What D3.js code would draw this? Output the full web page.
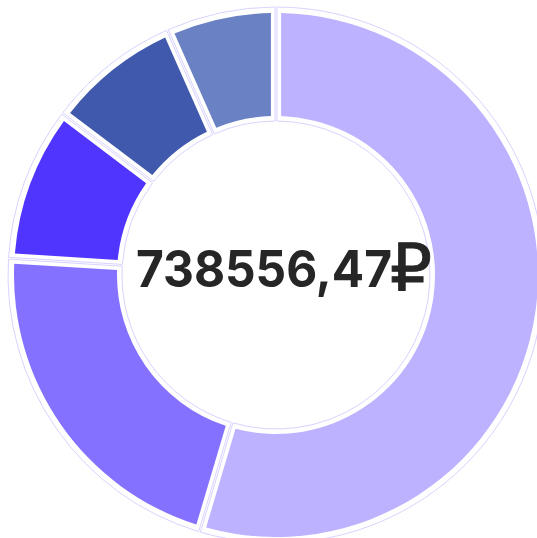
<!DOCTYPE html>
<html>
<head>
<meta charset="utf-8">
<script src="https://cdn.jsdelivr.net/npm/d3@7"></script>
<style>
  html, body { margin: 0; padding: 0; background: #fff; }
</style>
</head>
<body>
<div id="chart"></div>
<script>
// data
const categories = ["A", "B", "C", "D", "E"];
const values = [403300, 158000, 68700, 59500, 49056.47];
const colors = ["#bcb2ff", "#8471ff", "#5034ff", "#4059ad", "#6a81c4"];
const totalLabel = "738556,47";
const currency = "₽";

const width = 537;
const height = 538;
const cx = 276;
const cy = 275;

const data = categories.map((c, i) => ({ name: c, value: values[i] }));

const color = d3.scaleOrdinal()
    .domain(categories)
    .range(colors);

const pie = d3.pie()
    .value(d => d.value);

const arcs = pie(data);

// thin outline behind each slice
const halo = d3.arc()
    .innerRadius(154)
    .outerRadius(268)
    .padRadius(300)
    .padAngle(0.006);

const arc = d3.arc()
    .innerRadius(159)
    .outerRadius(262)
    .padRadius(300)
    .padAngle(0.034);

const svg = d3.create("svg")
    .attr("width", width)
    .attr("height", height);

const g = svg.append("g")
    .attr("transform", `translate(${cx},${cy})`);

g.selectAll("path.halo")
  .data(arcs)
  .join("path")
    .attr("class", "halo")
    .attr("d", halo)
    .attr("fill", "#fff")
    .attr("stroke", "#d8d3ff")
    .attr("stroke-width", 1);

g.selectAll("path.slice")
  .data(arcs)
  .join("path")
    .attr("class", "slice")
    .attr("d", arc)
    .attr("fill", d => color(d.data.name));

// total in the middle
svg.append("text")
    .attr("x", 136)
    .attr("y", 287)
    .attr("font-family", "Inter, 'DejaVu Sans', sans-serif")
    .attr("font-weight", 700)
    .attr("font-size", 51)
    .attr("fill", "#262626")
    .attr("textLength", 256)
    .attr("lengthAdjust", "spacingAndGlyphs")
    .text(totalLabel);

svg.append("text")
    .attr("x", 390)
    .attr("y", 291)
    .attr("font-family", "'DejaVu Sans', sans-serif")
    .attr("font-size", 66)
    .attr("fill", "#262626")
    .attr("stroke", "#262626")
    .attr("stroke-width", 1)
    .text(currency);

d3.select("#chart").append(() => svg.node());
</script>
</body>
</html>
